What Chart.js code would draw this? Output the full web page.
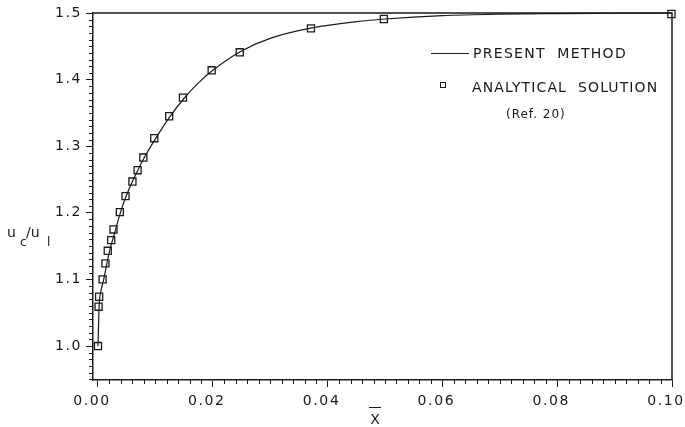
<!DOCTYPE html>
<html>
<head>
<meta charset="utf-8">
<script src="https://cdn.jsdelivr.net/npm/chart.js@4.4.1/dist/chart.umd.min.js"></script>
<style>
  body { margin: 0; background: #fff; }
  #wrap { width: 685px; height: 427px; }
</style>
</head>
<body>
<div id="wrap"><canvas id="myChart" width="685" height="427"></canvas></div>
<script>
// present method curve
const methodX = [0, 0.0002, 0.0005, 0.001, 0.0015, 0.002, 0.003, 0.004, 0.005, 0.006, 0.007, 0.008,
  0.01, 0.0125, 0.015, 0.0175, 0.02, 0.025, 0.03, 0.0375, 0.045, 0.05, 0.06, 0.07, 0.08, 0.09, 0.1];
const methodY = [1.0, 1.06, 1.082, 1.10, 1.122, 1.142, 1.173, 1.203, 1.227, 1.247, 1.265, 1.282,
  1.311, 1.344, 1.372, 1.395, 1.414, 1.443, 1.462, 1.478, 1.487, 1.491, 1.496, 1.4982, 1.4991, 1.4996, 1.5];

// analytical solution (Ref. 20)
const solX = [0, 0.0001, 0.0002, 0.0008, 0.0013, 0.0017, 0.0023, 0.0027, 0.0038, 0.0048, 0.006,
  0.0069, 0.0079, 0.0098, 0.0124, 0.0148, 0.0198, 0.0247, 0.0371, 0.0498, 0.0999];
const solY = [1.0, 1.059, 1.074, 1.100, 1.124, 1.143, 1.159, 1.175, 1.201, 1.225, 1.247,
  1.264, 1.283, 1.312, 1.345, 1.373, 1.414, 1.441, 1.477, 1.491, 1.4985];

const xTicks = [0, 0.02, 0.04, 0.06, 0.08, 0.10];
const yTicks = [1.0, 1.1, 1.2, 1.3, 1.4, 1.5];

const ink = '#1a1a1a';
const font = { family: 'DejaVu Sans', size: 14 };

const extras = {
  id: 'extras',
  beforeDraw(chart) {
    chart.ctx.letterSpacing = '1.6px';
  },
  afterDraw(chart) {
    const { ctx, chartArea: a, scales } = chart;
    const x = scales.x, y = scales.y;
    ctx.save();
    ctx.strokeStyle = ink;
    ctx.fillStyle = ink;

    // top and right of the frame
    ctx.lineWidth = 1.5;
    ctx.beginPath();
    ctx.moveTo(a.left, a.top);
    ctx.lineTo(a.right, a.top);
    ctx.lineTo(a.right, a.bottom);
    ctx.stroke();

    // minor ticks
    ctx.lineWidth = 1;
    ctx.beginPath();
    for (let i = 0; i <= 50; i++) {
      if (i % 10 === 0) continue;
      const px = Math.round(x.getPixelForValue(i * 0.002)) + 0.5;
      ctx.moveTo(px, a.bottom);
      ctx.lineTo(px, a.bottom + 4);
    }
    for (let i = 95; i < 150; i++) {
      if (i % 10 === 0) continue;
      const py = Math.round(y.getPixelForValue(i / 100)) + 0.5;
      ctx.moveTo(a.left - 4, py);
      ctx.lineTo(a.left, py);
    }
    ctx.stroke();

    // axis titles
    ctx.letterSpacing = '0px';
    ctx.textAlign = 'left';
    ctx.textBaseline = 'alphabetic';
    ctx.font = '14px "DejaVu Sans"';
    ctx.fillText('u', 7, 237);
    ctx.fillText('/u', 26, 237);
    ctx.font = '12px "DejaVu Sans"';
    ctx.fillText('c', 20, 246);
    ctx.fillText('l', 47, 246);

    ctx.font = '14px "DejaVu Sans"';
    ctx.textAlign = 'center';
    ctx.fillText('X', 375, 424);
    ctx.beginPath();
    ctx.moveTo(369, 407.5);
    ctx.lineTo(381, 407.5);
    ctx.stroke();

    // legend
    ctx.textAlign = 'left';
    ctx.textBaseline = 'middle';
    ctx.letterSpacing = '1.3px';
    ctx.beginPath();
    ctx.moveTo(431, 53.5);
    ctx.lineTo(469, 53.5);
    ctx.stroke();
    ctx.fillText('PRESENT  METHOD', 473, 54);
    ctx.strokeRect(440.5, 82.5, 5, 5);
    ctx.letterSpacing = '1.1px';
    ctx.fillText('ANALYTICAL  SOLUTION', 472, 88);
    ctx.font = '12px "DejaVu Sans"';
    ctx.letterSpacing = '1px';
    ctx.fillText('(Ref. 20)', 506, 115);
    ctx.restore();
  }
};

const ctx = document.getElementById('myChart');

new Chart(ctx, {
  type: 'scatter',
  data: {
    datasets: [{
      label: 'PRESENT METHOD',
      data: methodX.map((v, i) => ({ x: v, y: methodY[i] })),
      showLine: true,
      borderColor: ink,
      borderWidth: 1.2,
      pointRadius: 0,
      cubicInterpolationMode: 'monotone',
      clip: false
    }, {
      label: 'ANALYTICAL SOLUTION',
      data: solX.map((v, i) => ({ x: v, y: solY[i] })),
      showLine: false,
      pointStyle: 'rect',
      pointRadius: 5,
      borderWidth: 1.3,
      borderColor: ink,
      backgroundColor: 'rgba(0,0,0,0)',
      clip: false
    }]
  },
  options: {
    responsive: false,
    animation: false,
    layout: { padding: { top: 13, right: 13, left: 0, bottom: 0 } },
    plugins: { legend: { display: false }, tooltip: { enabled: false } },
    scales: {
      x: {
        type: 'linear',
        min: -0.00087,
        max: 0.10,
        afterBuildTicks: s => { s.ticks = xTicks.map(v => ({ value: v })); },
        afterFit: s => { s.height = 47; s.paddingLeft = 0; s.paddingRight = 0; },
        ticks: { color: ink, font: font, padding: 6, labelOffset: -6, maxRotation: 0, callback: v => v.toFixed(2) },
        grid: { drawOnChartArea: false, tickLength: 7, color: ink, lineWidth: 1 },
        border: { color: ink, width: 1.5 }
      },
      y: {
        type: 'linear',
        min: 0.949,
        max: 1.5,
        afterBuildTicks: s => { s.ticks = yTicks.map(v => ({ value: v })); },
        afterFit: s => { s.width = 93; s.paddingTop = 0; s.paddingBottom = 0; },
        ticks: { color: ink, font: font, padding: 4, callback: v => v.toFixed(1) },
        grid: { drawOnChartArea: false, tickLength: 7, color: ink, lineWidth: 1 },
        border: { color: ink, width: 1.5 }
      }
    }
  },
  plugins: [extras]
});
</script>
</body>
</html>
